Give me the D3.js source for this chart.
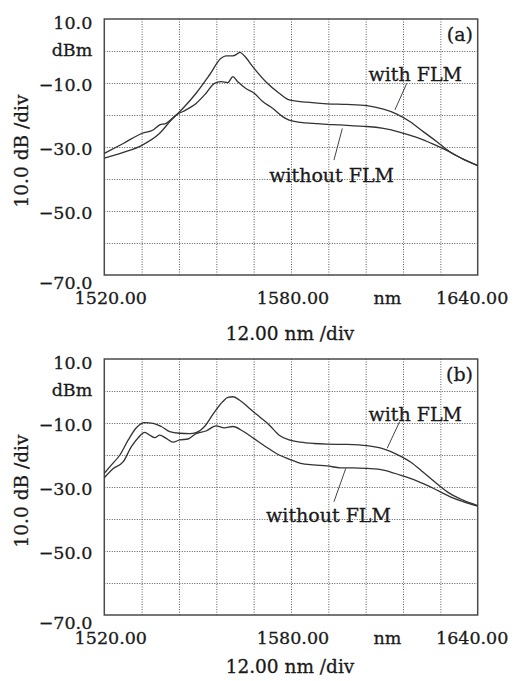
<!DOCTYPE html>
<html>
<head>
<meta charset="utf-8">
<script src="https://cdn.jsdelivr.net/npm/d3@7"></script>
<style>
body{margin:0;background:#fff;}
text{font-family:"DejaVu Serif",serif;fill:#1a1a1a;stroke:#1a1a1a;stroke-width:0.3;}
.grid line{stroke:#5a5a5a;stroke-width:1;stroke-dasharray:1,1.5;}
.grid path{display:none;}
.trace{fill:none;stroke:#333;stroke-width:1.3;}
.lead{stroke:#444;stroke-width:1;}
</style>
</head>
<body>
<div id="chart"></div>
<script>
var w=515;
var h=681;

// panel (a)
var aWithNm=[1520,1526.1,1532.2,1537.8,1541.5,1545.3,1549.5,1553.8,1557.5,1559.1,1561.3,1562.6,1563.6,1565,1567.7,1571.9,1576.2,1579.4,1585.2,1591.6,1598,1604.4,1609.7,1614,1618.3,1622.5,1626.8,1631,1635.3,1640];
var aWithDb=[-33.5,-31.7,-29.4,-25.7,-21.6,-17.9,-13.2,-7.5,-2.3,-1.5,-1.5,-1.0,-0.4,-1.5,-4.9,-9.6,-13.2,-15.3,-16.0,-16.5,-16.7,-17.1,-18.2,-19.7,-22.1,-25.2,-28.3,-31.5,-33.8,-35.8];
var aWithoutNm=[1520,1526.1,1532.2,1535.7,1537.8,1539.9,1543.1,1546.3,1549.5,1552.7,1555.4,1557.5,1559.7,1561.3,1562.9,1565.5,1568.2,1570.9,1574.1,1577.3,1579.4,1583.1,1587.3,1591.6,1595.9,1600.1,1604.4,1609.7,1615.1,1620.4,1625.7,1631,1635.3,1640];
var aWithoutDb=[-32,-28.9,-25.7,-24.7,-23.1,-22.6,-20,-18.4,-16.4,-13.2,-10.1,-9.6,-9.9,-8.0,-9.6,-11.7,-13.2,-15.8,-17.9,-20.5,-21.6,-22.3,-22.6,-22.9,-23.1,-23.4,-23.6,-24.2,-25.4,-27.0,-29.1,-31.5,-33.8,-35.8];

// panel (b)
var bWithNm=[1520,1522.3,1525,1527.7,1530.3,1533,1535.7,1538.3,1541,1544.2,1547.4,1549.5,1552.2,1554.9,1558.1,1559.7,1561.3,1563.4,1566.6,1569.8,1573,1576.2,1579.4,1583.1,1587.3,1591.6,1598,1604.4,1609.7,1614,1618.3,1622.5,1626.8,1631,1635.3,1640];
var bWithDb=[-25.7,-23.1,-20,-15.3,-11.5,-9.9,-10.1,-11.1,-12.7,-13.2,-13.3,-13.0,-11.1,-7.3,-3.3,-2.0,-1.8,-2.8,-5.4,-8.0,-10.6,-13.8,-15.3,-16.0,-16.4,-16.6,-16.7,-17.1,-18.1,-19.8,-22.1,-25.4,-28.9,-32,-34.1,-35.8];
var bWithoutNm=[1520,1522.9,1526.1,1528.7,1530.9,1533,1534.6,1536.2,1537.8,1539.9,1542.1,1544.2,1546.9,1549.5,1552.7,1555.9,1558.6,1561.3,1564.5,1567.7,1571.9,1576.2,1579.4,1583.1,1587.3,1591.6,1595.9,1600.1,1604.4,1609.7,1615.1,1620.4,1625.7,1631,1635.3,1640];
var bWithoutDb=[-27.1,-24.2,-22.1,-17.4,-14.6,-12.9,-13.8,-14.6,-13.8,-14.8,-16.0,-15.3,-15.0,-13.3,-12.5,-10.9,-11.5,-11.1,-12.5,-14.6,-17.4,-20,-21.3,-22.6,-23.1,-23.4,-24,-24,-24.2,-24.7,-26.3,-28.1,-30.4,-33,-34.6,-36];

var gridX=[1532,1544,1556,1568,1580,1592,1604,1616,1628];
var gridY=[0,-10,-20,-30,-40,-50,-60];
var yTicks=[10,-10,-30,-50,-70];
var xTicks=[1520,1580,1640];

var left=104.3, pw=373.4, ph=256;

var x=d3.scaleLinear().domain([1520,1640]).range([0,pw]);
var y=d3.scaleLinear().domain([-70,10]).range([ph,0]);

var svg=d3.select("#chart")
  .append("svg")
  .attr("width",w)
  .attr("height",h);

function zip(nm,db){
  return nm.map(function(d,i){ return [d,db[i]]; });
}

var line=d3.line()
  .x(function(d){ return x(d[0]); })
  .y(function(d){ return y(d[1]); })
  .curve(d3.curveMonotoneX);

function panel(top,tag,withData,withoutData,leadWith,leadWithout,withoutX,bottomGap){
  var g=svg.append("g").attr("transform","translate("+left+","+top+")");

  g.append("g").attr("class","grid")
    .attr("transform","translate(0,"+ph+")")
    .call(d3.axisBottom(x).tickValues(gridX).tickSize(-ph).tickFormat(""));
  g.append("g").attr("class","grid")
    .call(d3.axisLeft(y).tickValues(gridY).tickSize(-pw).tickFormat(""));

  g.append("rect")
    .attr("width",pw).attr("height",ph)
    .attr("fill","none").attr("stroke","#4a4a4a").attr("stroke-width",1.5);

  // y labels
  var ya=g.append("g")
    .call(d3.axisLeft(y).tickValues(yTicks).tickSize(0).tickPadding(12)
      .tickFormat(function(d){ return d.toFixed(1).replace("-","\u2212"); }));
  ya.select(".domain").remove();
  ya.selectAll("text")
    .attr("font-size",17.5).attr("font-family","DejaVu Serif").attr("fill","#1a1a1a")
    .attr("dy",function(d){ return d==10 ? "0.55em" : (d==-70 ? "0.75em" : "0.42em"); });

  g.append("text").attr("x",-12).attr("y",y(0)).attr("dy","0.3em")
    .attr("text-anchor","end").attr("font-size",17.5).text("dBm");

  // x labels
  var xa=g.append("g").attr("transform","translate(0,"+ph+")")
    .call(d3.axisBottom(x).tickValues(xTicks).tickSize(0).tickPadding(17)
      .tickFormat(function(d){ return d.toFixed(2); }));
  xa.select(".domain").remove();
  xa.selectAll("text")
    .attr("font-size",17.5).attr("font-family","DejaVu Serif").attr("fill","#1a1a1a")
    .attr("dx",function(d){ return d==1520 ? 6 : (d==1640 ? -6 : 1.5); });

  g.append("text").attr("x",x(1611)).attr("y",ph+17).attr("dy","0.71em")
    .attr("text-anchor","middle").attr("font-size",17.5).text("nm");

  g.append("text").attr("x",pw/2-1).attr("y",ph+bottomGap)
    .attr("text-anchor","middle").attr("font-size",18.5).text("12.00 nm /div");

  g.append("text")
    .attr("transform","translate(-83,"+(ph/2+4)+") rotate(-90)")
    .attr("text-anchor","middle").attr("dy","0.35em")
    .attr("font-size",18.5).text("10.0 dB /div");

  // traces
  g.append("path").datum(withoutData).attr("class","trace").attr("d",line);
  g.append("path").datum(withData).attr("class","trace").attr("d",line);

  // annotations
  g.append("text").attr("x",x(1638.5)).attr("y",y(3.1))
    .attr("text-anchor","end").attr("font-size",19).text(tag);
  g.append("text").attr("x",x(1604.9)).attr("y",y(-9.4))
    .attr("font-size",19).text("with FLM");
  g.append("text").attr("x",x(withoutX)).attr("y",y(-40.9))
    .attr("font-size",19).text("without FLM");

  g.append("line").attr("class","lead")
    .attr("x1",x(leadWith[0])).attr("y1",y(leadWith[1]))
    .attr("x2",x(leadWith[2])).attr("y2",y(leadWith[3]));
  g.append("line").attr("class","lead")
    .attr("x1",x(leadWithout[0])).attr("y1",y(leadWithout[1]))
    .attr("x2",x(leadWithout[2])).attr("y2",y(leadWithout[3]));
}

panel(19,"(a)",zip(aWithNm,aWithDb),zip(aWithoutNm,aWithoutDb),
  [1617.2,-10.1,1613.4,-18.4],[1596.5,-24.2,1593.8,-34.1],1573,65);
panel(359,"(b)",zip(bWithNm,bWithDb),zip(bWithoutNm,bWithoutDb),
  [1614.9,-9.6,1610.9,-17.9],[1597.6,-24.2,1593.8,-34.6],1572,58);
</script>
</body>
</html>
